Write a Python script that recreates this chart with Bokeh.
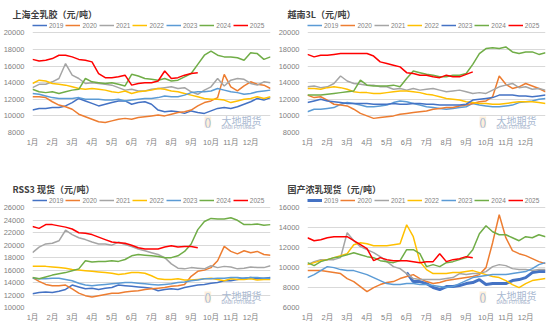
from bokeh.plotting import figure
from bokeh.models import Legend, LegendItem, Label, FixedTicker, Range1d
from bokeh.layouts import column, row
from bokeh.embed import file_html
from bokeh.resources import INLINE

NAN = float("nan")

months = ["1月", "2月", "3月", "4月", "5月", "6月", "7月", "8月", "9月", "10月", "11月", "12月"]
years = ["2019", "2020", "2021", "2022", "2023", "2024", "2025"]

# one reading every third of a month, starting 1 January (x in months)
x_full = [i / 3 for i in range(37)]
x_2025 = x_full[:26]

# ---------- 上海全乳胶 ----------
sh_2019 = [10700,10900,10900,11000,11000,11200,11600,12100,11800,11500,11200,11400,11600,11800,11800,11400,11600,11700,11400,10700,10500,10600,10500,10300,10600,10400,10300,10600,10900,11000,10900,11100,11400,11700,12100,11900,12200]
sh_2020 = [12300,12300,12200,11700,11300,11100,10800,10200,9900,9600,9300,9200,9400,9600,9700,9600,9800,9900,10000,10100,10000,10200,10400,10500,10700,11200,11600,11800,12200,15000,13500,13000,13600,14100,13800,13700,13300]
sh_2021 = [13400,13800,13800,14100,14500,16300,14900,14500,13900,14000,13900,13800,13700,13400,13100,13200,13000,13000,13200,13300,13400,13500,13300,13400,12900,12600,13100,13500,14500,13600,14300,14500,14400,13900,13700,14100,14000]
sh_2022 = [13900,14300,14200,13900,13800,13700,13500,13300,13200,13300,13200,13100,12900,12800,13000,12700,12900,13000,13100,13300,13200,13000,12900,12700,12500,12300,12100,12000,12000,11900,11600,11800,12000,12100,12300,12100,12300]
sh_2023 = [12700,12600,12400,12200,12100,12100,12100,12200,12000,12000,12000,11900,11900,12000,11800,11900,12000,12100,12100,12200,12400,12300,12300,12500,12800,12900,12900,13000,13300,13100,12900,12800,12600,12700,12900,13000,13100]
sh_2024 = [13200,12900,12800,12900,12700,12900,13100,13200,14500,14100,14000,13900,14000,13800,13600,15000,14800,14500,14400,14300,14500,14200,14300,14700,15100,16200,17300,17800,17300,17100,17100,17000,16700,17600,17500,16800,17100]
sh_2025 = [16800,16600,16700,16900,17300,17300,17100,16800,16700,16500,15100,14600,14600,14700,14900,13700,13900,14000,14000,14200,15400,14500,14600,14900,15100,15200]

# ---------- 越南3L ----------
vn_2019 = [10500,10800,10800,10900,11000,11400,11600,11500,11300,11100,11100,11200,11300,11600,11800,11700,11500,11300,11100,11000,10900,10800,10900,11000,11100,11500,11300,11200,11100,11100,11200,11300,11600,11700,11800,12000,12100]
vn_2020 = [12500,12200,12300,11900,11400,11300,11200,10800,10300,10000,9700,9800,9900,10000,10200,10300,10400,10500,10600,10800,10900,11000,11000,11200,11300,11500,11700,11800,12300,14800,13800,13300,13500,13900,13600,13300,12900]
vn_2021 = [13500,13600,13400,13500,13900,14800,14200,13900,13800,13700,13700,13500,13500,13200,13300,13100,13300,13100,13200,13300,13100,12900,13000,13100,12900,12700,12800,12700,13100,13500,13700,13900,13400,13500,13200,13300,13100]
vn_2022 = [13300,13300,13200,13400,13500,13400,13200,12900,12800,12800,12700,12700,12800,12900,13000,13000,12900,12800,12600,12500,12300,12100,12000,11900,11700,11600,11500,11500,11400,11400,11500,11600,11700,11700,11700,11600,11500]
vn_2023 = [11600,11800,12000,11800,11700,11600,11500,11500,11500,11500,11400,11400,11400,11500,11400,11400,11500,11500,11400,11400,11300,11300,11300,11300,11400,11900,12000,12100,12200,12500,12500,12500,12400,12400,12300,12400,12500]
vn_2024 = [12500,12500,12500,12600,12700,12800,12900,13000,14300,13700,13600,13600,13600,13700,13500,14500,15400,15200,15000,14900,14700,14700,14900,14900,15100,16200,17500,18100,18200,18100,18300,17700,17500,17700,17700,17400,17600]
vn_2025 = [17400,17100,17300,17300,17400,17500,17500,17500,17500,17500,17200,16500,16300,16100,15900,15200,15100,14900,14900,14700,14600,14900,14700,14700,15000,15300]

# ---------- RSS3 现货 ----------
rss_2019 = [12200,12400,12500,12400,12600,12900,13600,13300,13000,13100,12900,13100,13200,13600,13500,13400,13300,13200,13100,12700,12900,13000,12900,13200,13400,13600,13700,13900,14000,14300,14300,14500,14700,14800,14600,14700,14800]
rss_2020 = [14800,14200,13700,13500,13500,13600,13000,12300,11900,11700,11900,12100,12300,12300,12500,12600,12700,12900,13000,13100,13200,13400,13500,13700,15000,15800,16000,16400,17500,19800,19000,18600,19100,18800,19000,18500,18400]
rss_2021 = [18800,19700,20200,20300,20700,22400,21700,21200,20900,20500,20200,20200,20000,20500,20100,19800,19400,19100,18800,18500,18000,17000,16300,16200,16400,16300,16200,16700,16400,16600,16500,16200,16300,16500,16400,16400,16700]
rss_2022 = [16600,16600,16600,16500,16400,16300,16100,16000,15900,15800,15700,15600,15500,15300,15400,15600,15600,15500,15100,14600,14500,14500,14600,14400,14400,14500,14600,14700,14500,14300,14600,14500,14500,14600,14400,14500,14500]
rss_2023 = [14700,14600,14600,14700,14700,14500,14300,13900,13600,13500,13600,13700,13800,13900,14000,14000,13900,13800,13700,13600,13700,13800,14000,14100,14300,14400,14600,14600,14700,14700,14800,14800,14700,14800,14800,14700,14700]
rss_2024 = [14800,14600,14900,15200,15400,15600,15900,16200,17500,17300,17400,17400,17500,17400,17700,18300,18500,18400,18300,18200,18000,18000,18300,19000,20200,22500,23800,24300,24200,24200,24400,24000,23300,23300,23400,23200,23300]
rss_2025 = [23000,22700,23300,23300,23100,22900,22600,22000,21900,21700,21300,20900,20500,20400,20300,20000,19600,19400,19400,19400,19700,19900,19700,19800,19800,19600]

# ---------- 国产浓乳现货 ----------
cn_2019 = [NAN] * 15 + [9500,8600,8600,8400,8000,7800,8100,8100,8200,8400,8500,8800,8300,8400,8400,8400,8700,8800,9000,9500,9600,9600]
cn_2020 = [9700,9700,9700,9600,9500,9400,8900,8600,8100,7600,8000,8300,8500,8600,8900,9100,9300,8900,8600,8400,8500,8700,8800,8900,9000,9100,9300,10000,12500,15300,13000,11700,11400,11200,10900,10600,10400]
cn_2021 = [10300,10600,10800,10800,10800,11000,13500,12700,12100,11800,11500,11100,10600,10100,9900,9400,8900,8800,8800,8800,8800,8900,9000,9400,9300,9400,9400,9600,10100,10300,10200,9900,9800,9800,9700,9800,9800]
cn_2022 = [10300,10500,10700,10800,11000,11200,11400,12300,12500,12400,12200,12200,12200,12300,12400,14300,13100,10600,9800,9400,9400,9400,9500,9500,9600,9700,9500,9300,9100,9000,8700,8300,8000,8400,8700,8800,8900]
cn_2023 = [9000,9300,9700,10100,10000,9800,9700,9700,9500,9300,9000,8700,8400,8300,8300,8400,8400,8300,8300,8200,8100,8000,8100,8400,8700,9000,9100,9200,9300,9300,9300,9400,9500,9600,9900,10300,10500]
cn_2024 = [10500,10200,10600,10800,11000,11100,11300,11500,11300,11100,11000,10700,10600,10500,10700,11800,11800,11400,10100,10300,10100,10500,10600,10800,11000,11800,13400,14200,13600,13300,13300,13000,12700,13100,13000,13300,13100]
cn_2025 = [13000,12700,12800,13000,13100,13100,13100,12700,12300,11900,10700,11000,10800,10700,10700,10700,10600,10500,10600,10600,11400,10600,10800,10900,11100,11000]

DARK_BLUE = "#4472C4"
LIGHT_BLUE = "#5B9BD5"
ORANGE = "#ED7D31"
GRAY = "#A5A5A5"
GOLD = "#FFC000"
GREEN = "#70AD47"
RED = "#FF0000"

CJK = "Noto Sans CJK SC"
NUM = "Liberation Sans, Noto Sans CJK SC"


def make_panel(title, series, colors, widths, ylo, yhi, ystep, height):
    frame_top = 21
    frame_bottom = 132
    fh = frame_bottom - frame_top
    span_px = 99.7
    yend = ylo + fh * (yhi - ylo) / span_px
    p = figure(width=275, height=height, output_backend="svg", toolbar_location=None,
               x_range=Range1d(0, 12), y_range=Range1d(ylo, yend),
               min_border_left=31, min_border_right=5, min_border_top=frame_top,
               min_border_bottom=height - frame_bottom)
    p.outline_line_color = None
    p.background_fill_color = "white"
    p.border_fill_color = "white"

    p.title.text = title
    p.title.text_font = CJK
    p.title.text_font_size = "9px"
    p.title.text_font_style = "bold"
    p.title.text_color = "#404040"
    p.title.align = "left"
    p.title.offset = -20
    p.title.standoff = 2

    items = []
    for yr, ys, c, w in zip(years, series, colors, widths):
        xs = x_2025 if yr == "2025" else x_full
        r = p.line(xs, ys, line_color=c, line_width=w)
        items.append(LegendItem(label=yr, renderers=[r]))

    yticks = list(range(ylo, yhi + 1, ystep))
    p.yaxis.ticker = FixedTicker(ticks=yticks)
    p.ygrid.ticker = FixedTicker(ticks=yticks)
    p.ygrid.grid_line_color = "#D9D9D9"
    p.ygrid.grid_line_width = 1
    p.xgrid.visible = False

    p.xaxis.ticker = FixedTicker(ticks=list(range(12)))
    p.xaxis.major_label_overrides = {i: m for i, m in enumerate(months)}

    for ax in (p.xaxis, p.yaxis):
        ax.axis_line_color = None
        ax.major_tick_line_color = None
        ax.minor_tick_line_color = None
        ax.major_tick_out = 0
        ax.major_tick_in = 0
        ax.minor_tick_out = 0
        ax.minor_tick_in = 0
        ax.major_label_text_font = NUM
        ax.major_label_text_font_size = "7.5px"
        ax.major_label_text_color = "#7F7F7F"
    p.yaxis.major_label_standoff = 8
    p.xaxis.major_label_standoff = 5

    legend = Legend(items=items, location="top_left", orientation="horizontal",
                    glyph_width=15, glyph_height=8, label_height=8, label_width=12,
                    label_text_font_size="6.5px", label_text_color="#7F7F7F",
                    label_text_font=NUM, label_standoff=2, spacing=2,
                    padding=0, margin=0, background_fill_alpha=0,
                    border_line_color=None)
    p.add_layout(legend)

    # watermark
    p.add_layout(Label(x=172, y=5, x_units="screen", y_units="screen",
                       text="()", text_font=NUM, text_font_size="10px",
                       text_color="#9DB5D8", background_fill_color="#FCEBD2",
                       background_fill_alpha=0.8, text_baseline="bottom"))
    p.add_layout(Label(x=189, y=12, x_units="screen", y_units="screen",
                       text="大地期货", text_font=CJK, text_font_size="10px",
                       text_color="#A9B9D1", text_baseline="middle"))
    p.add_layout(Label(x=189, y=5, x_units="screen", y_units="screen",
                       text="DADI FUTURES", text_font=NUM, text_font_size="4.5px",
                       text_font_style="bold", text_color="#B4C0D2",
                       text_baseline="middle"))
    return p


std_colors = [DARK_BLUE, ORANGE, GRAY, GOLD, LIGHT_BLUE, GREEN, RED]
vn_colors = [LIGHT_BLUE, ORANGE, GRAY, GOLD, DARK_BLUE, GREEN, RED]
std_w = [1.5] * 7
cn_w = [3] + [1.5] * 6

p1 = make_panel("上海全乳胶（元/吨）",
                [sh_2019, sh_2020, sh_2021, sh_2022, sh_2023, sh_2024, sh_2025],
                std_colors, std_w, 8000, 20000, 2000, 175)
p2 = make_panel("越南3L（元/吨）",
                [vn_2019, vn_2020, vn_2021, vn_2022, vn_2023, vn_2024, vn_2025],
                vn_colors, std_w, 8000, 20000, 2000, 175)
p3 = make_panel("RSS3 现货（元/吨）",
                [rss_2019, rss_2020, rss_2021, rss_2022, rss_2023, rss_2024, rss_2025],
                std_colors, std_w, 10000, 26000, 2000, 150)
p4 = make_panel("国产浓乳现货（元/吨）",
                [cn_2019, cn_2020, cn_2021, cn_2022, cn_2023, cn_2024, cn_2025],
                std_colors, cn_w, 6000, 16000, 2000, 150)

layout = column(row(p1, p2, spacing=0), row(p3, p4, spacing=0), spacing=0)

with open("out.html", "w") as f:
    f.write(file_html(layout, INLINE))
